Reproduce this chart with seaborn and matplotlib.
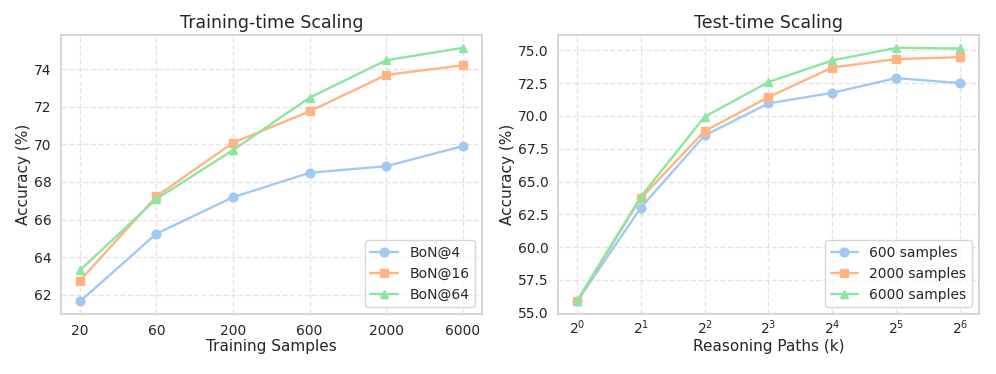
import matplotlib

matplotlib.use("Agg")
import matplotlib.pyplot as plt
import pandas as pd
import seaborn as sns

# Training-time scaling
train_samples = ["20", "60", "200", "600", "2000", "6000"]
bon4 = [61.64, 65.25, 67.19, 68.49, 68.84, 69.91]
bon16 = [62.75, 67.24, 70.09, 71.76, 73.70, 74.21]
bon64 = [63.30, 67.10, 69.70, 72.49, 74.48, 75.14]

# Test-time scaling
path_exp = [0, 1, 2, 3, 4, 5, 6]
path_labels = [f"$2^{{{e}}}$" for e in path_exp]
s600 = [55.85, 63.00, 68.52, 70.96, 71.77, 72.89, 72.51]
s2000 = [55.85, 63.72, 68.85, 71.44, 73.70, 74.34, 74.49]
s6000 = [55.90, 63.84, 69.94, 72.59, 74.24, 75.20, 75.15]

sns.set_theme(style="whitegrid")
colors = sns.color_palette("pastel")
markers = ["o", "s", "^"]

fig, axes = plt.subplots(1, 2, figsize=(9.96, 3.74), dpi=100)
plt.subplots_adjust(left=0.061, right=0.983, top=0.906, bottom=0.16, wspace=0.18)


def draw(ax, xlabels, series, names, title, xlabel, xpad):
    rows = []
    for name, vals in zip(names, series):
        for i, v in enumerate(vals):
            rows.append({"x": i, "acc": v, "series": name})
    df = pd.DataFrame(rows)
    for k, name in enumerate(names):
        sub = df[df["series"] == name]
        ax.plot(sub["x"], sub["acc"], marker=markers[k], color=colors[k],
                linewidth=1.7, markersize=6.3, label=name)
    ax.set_xticks(range(len(xlabels)))
    ax.set_xticklabels(xlabels, fontsize=10)
    ax.tick_params(axis="y", labelsize=10, pad=0.4)
    ax.tick_params(axis="x", pad=xpad)
    ax.set_title(title, fontsize=12.5, pad=5)
    ax.set_xlabel(xlabel, fontsize=11)
    ax.xaxis.set_label_coords(0.5, -0.09)
    ax.set_ylabel("Accuracy (%)", fontsize=11, labelpad=2.5)
    ax.grid(True, linestyle="--", alpha=0.5)
    for s in ax.spines.values():
        s.set_color("#d0d0d0")
        s.set_linewidth(1.2)
    ax.legend(loc="lower right", fontsize=10)


draw(axes[0], train_samples, [bon4, bon16, bon64],
     ["BoN@4", "BoN@16", "BoN@64"], "Training-time Scaling", "Training Samples", 1)
axes[0].set_yticks([62, 64, 66, 68, 70, 72, 74])

draw(axes[1], path_labels, [s600, s2000, s6000],
     ["600 samples", "2000 samples", "6000 samples"], "Test-time Scaling",
     "Reasoning Paths (k)", -3)
axes[1].set_yticks([55.0, 57.5, 60.0, 62.5, 65.0, 67.5, 70.0, 72.5, 75.0])
axes[1].set_yticklabels([f"{v:.1f}" for v in axes[1].get_yticks()])

fig.savefig("out.png", dpi=100)
